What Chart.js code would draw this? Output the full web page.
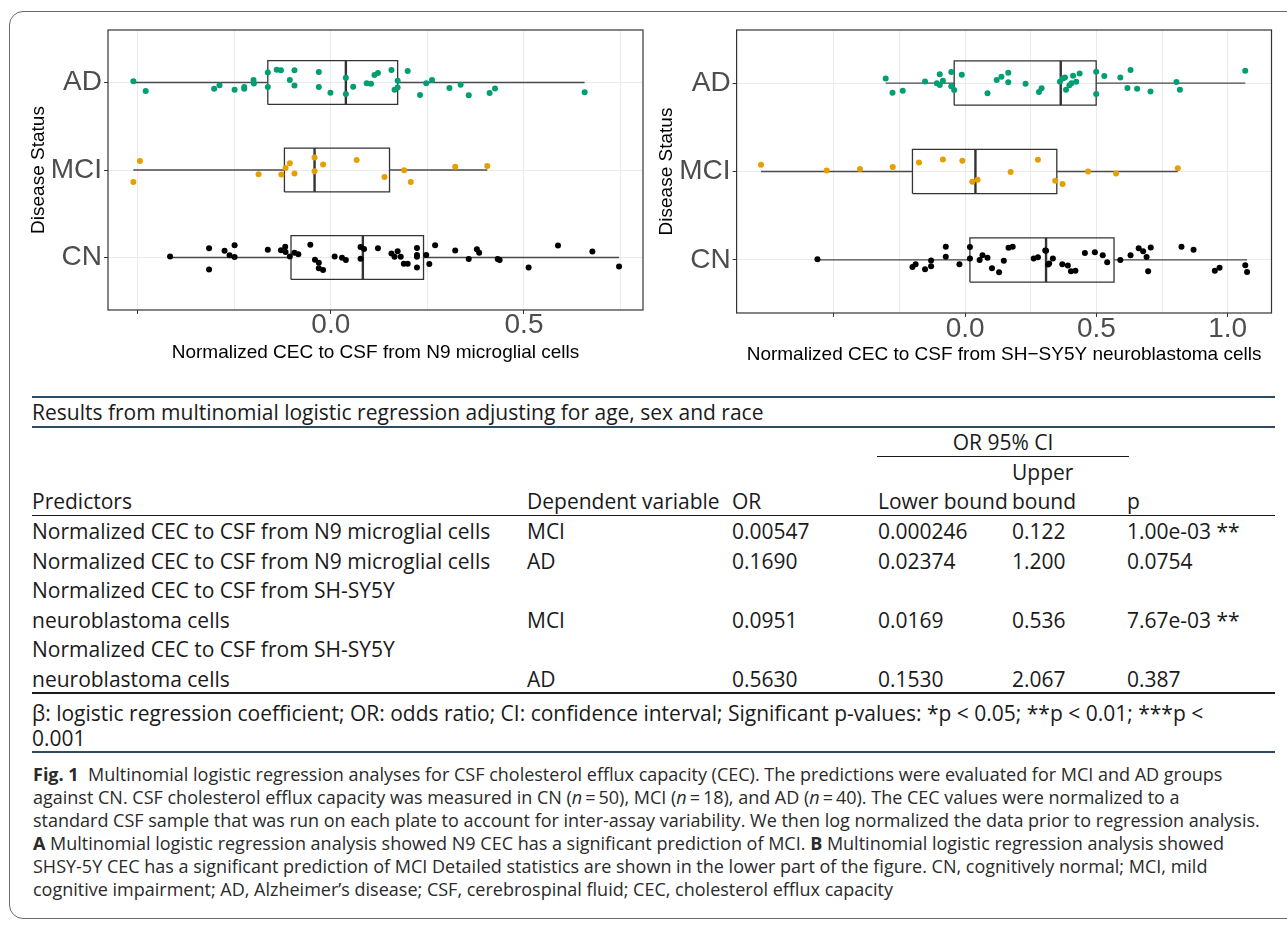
<!DOCTYPE html>
<html>
<head>
<meta charset="utf-8">
<title>CSF CEC by disease status</title>
<script src="https://cdn.jsdelivr.net/npm/chart.js@4"></script>
<style>
  body { margin: 0; background: #fff; width: 1287px; height: 925px; overflow: hidden; position: relative; }
  .frame { position: absolute; left: 9px; top: 11px; width: 1320px; height: 906px; border: 1.5px solid #6a6a6a; border-radius: 14px; }
  canvas { position: absolute; }
  .t { position: absolute; white-space: pre; font-family: "Open Sans", "Noto Sans", sans-serif; font-size: 21px; color: #1a1a1a; line-height: 29px; }
  .rule { position: absolute; left: 32px; width: 1243px; }
  .cap { position: absolute; left: 33px; white-space: nowrap; font-family: "Open Sans", "Noto Sans", sans-serif; font-size: 18px; color: #2a2a2a; line-height: 23px; }
</style>
</head>
<body>
<div class="frame"></div>
<canvas id="chartA" width="626" height="355" style="left:20px;top:14px"></canvas>
<canvas id="chartB" width="639" height="358" style="left:648px;top:14px"></canvas>
<div id="table"></div>
<div id="caption"></div>

<script>
// ---------- chart data ----------
const groups = ['CN', 'MCI', 'AD'];            // y = 1, 2, 3
const groupColors = ['#000000', '#E69F00', '#009E73'];

// panel A: N9 microglial cells. x = normalized CEC, j = vertical jitter
const n9_CN_x = [-0.416,-0.315,-0.315,-0.275,-0.262,-0.249,-0.249,-0.163,-0.129,-0.118,-0.117,-0.106,-0.094,-0.084,-0.053,-0.041,-0.031,-0.031,-0.020,0.010,0.029,0.039,0.077,0.077,0.086,0.122,0.157,0.165,0.173,0.181,0.189,0.199,0.223,0.223,0.223,0.223,0.247,0.255,0.270,0.322,0.357,0.378,0.384,0.432,0.437,0.512,0.588,0.677,0.746];
const n9_CN_j = [0.011,0.106,-0.136,0.076,0.027,0.140,0.005,0.090,0.083,0.124,0.064,0.011,0.053,0.038,0.147,-0.026,-0.060,-0.124,-0.142,0.011,-0.003,-0.029,0.121,-0.015,0.098,0.106,0.045,0.008,0.072,0.008,-0.071,-0.071,0.110,0.030,0.008,-0.113,0.030,-0.075,0.140,0.079,-0.018,0.095,0.053,-0.018,-0.029,-0.113,0.136,0.068,-0.102];
const n9_MCI_x = [-0.494,-0.511,-0.187,-0.128,-0.117,-0.106,-0.094,-0.042,-0.042,-0.020,0.067,0.139,0.190,0.207,0.322,0.405];
const n9_MCI_j = [0.102,-0.136,-0.049,-0.052,0.023,0.076,-0.041,0.143,-0.015,0.064,0.113,-0.079,-0.003,-0.136,0.038,0.045];
const n9_AD_x = [-0.511,-0.479,-0.302,-0.288,-0.249,-0.224,-0.224,-0.200,-0.199,-0.163,-0.163,-0.140,-0.129,-0.106,-0.094,-0.094,-0.031,-0.031,-0.001,0.039,0.039,0.058,0.093,0.104,0.113,0.122,0.157,0.173,0.165,0.173,0.199,0.231,0.247,0.262,0.307,0.336,0.357,0.411,0.425,0.657];
const n9_AD_j = [0.015,-0.098,-0.072,-0.030,-0.083,-0.071,-0.050,0.030,-0.011,0.113,-0.050,0.147,0.139,0.030,0.139,-0.034,0.120,-0.050,-0.117,0.053,-0.132,-0.049,-0.008,-0.015,0.087,0.110,0.143,0.019,-0.083,-0.056,0.132,-0.143,-0.008,0.030,-0.064,-0.026,-0.147,-0.121,-0.068,-0.112];
// box stats: [lower whisker, Q1, median, Q3, upper whisker]
const n9_CN_box = [-0.416, -0.103, 0.083, 0.240, 0.746];
const n9_MCI_box = [-0.511, -0.120, -0.042, 0.152, 0.405];
const n9_AD_box = [-0.511, -0.163, 0.039, 0.173, 0.657];

// panel B: SH-SY5Y neuroblastoma cells
const sh_CN_x = [-0.563,-0.201,-0.189,-0.153,-0.130,-0.130,-0.074,-0.074,-0.022,0.018,0.018,0.055,0.066,0.085,0.102,0.129,0.147,0.165,0.181,0.261,0.277,0.305,0.308,0.316,0.320,0.334,0.370,0.391,0.403,0.420,0.456,0.494,0.524,0.541,0.591,0.630,0.661,0.678,0.691,0.697,0.707,0.824,0.870,0.951,0.969,1.067,1.074];
const sh_CN_j = [0.007,-0.079,-0.050,-0.106,-0.005,-0.072,0.150,0.037,-0.050,0.147,0.015,0.000,0.052,0.026,-0.095,-0.140,-0.008,0.139,0.150,0.015,0.029,0.108,0.105,-0.053,-0.040,0.015,-0.050,-0.064,-0.128,-0.121,0.079,0.086,0.052,-0.027,0.000,0.052,0.131,0.097,0.034,-0.128,0.142,0.150,0.116,-0.121,-0.087,-0.061,-0.135];
const sh_MCI_x = [-0.778,-0.528,-0.401,-0.276,-0.176,-0.085,-0.011,0.027,0.047,0.173,0.277,0.343,0.371,0.468,0.575,0.810];
const sh_MCI_j = [0.075,0.011,0.027,0.050,0.101,0.135,0.121,-0.116,-0.094,-0.007,0.132,-0.105,-0.142,0.000,-0.023,0.038];
const sh_AD_x = [-0.303,-0.277,-0.238,-0.153,-0.108,-0.097,-0.097,-0.085,-0.053,-0.053,-0.042,-0.013,0.085,0.120,0.138,0.164,0.164,0.230,0.281,0.291,0.361,0.372,0.380,0.384,0.397,0.405,0.411,0.423,0.436,0.499,0.499,0.530,0.591,0.618,0.630,0.655,0.706,0.805,0.818,1.067];
const sh_AD_j = [0.053,-0.109,-0.087,0.019,-0.003,0.101,-0.023,0.026,0.124,-0.037,-0.079,0.094,-0.116,0.034,0.071,0.116,0.008,-0.008,-0.101,-0.060,0.015,0.053,0.064,-0.076,-0.026,-0.003,0.082,0.015,0.109,0.127,-0.124,0.079,0.064,-0.056,0.147,-0.064,-0.094,0.011,-0.076,0.139];
const sh_CN_box = [-0.563, 0.018, 0.308, 0.567, 1.074];
const sh_MCI_box = [-0.778, -0.201, 0.039, 0.349, 0.810];
const sh_AD_box = [-0.303, -0.042, 0.364, 0.499, 1.067];

// axis ticks
const n9Ticks = [-0.5, -0.25, 0, 0.25, 0.5, 0.75];
const shTicks = [-0.5, -0.25, 0, 0.25, 0.5, 0.75, 1.0];
const majorTicks = [-0.5, 0, 0.5, 1.0];
const xLabelText = { '0': '0.0', '0.5': '0.5', '1': '1.0' };
const yTicks = [1, 2, 3];

const AX = '"Liberation Sans", Arial, sans-serif';

function boxDatasets(stats, yc) {
  const [lo, q1, med, q3, hi] = stats;
  const seg = (pts, w, c) => ({ data: pts, showLine: true, borderColor: c, borderWidth: w,
    pointRadius: 0, pointHoverRadius: 0, fill: false, borderJoinStyle: 'miter' });
  return [
    seg([{x: lo, y: yc}, {x: q1, y: yc}], 1.3, '#4a4a4a'),
    seg([{x: q3, y: yc}, {x: hi, y: yc}], 1.3, '#4a4a4a'),
    seg([{x: q1, y: yc - 0.25}, {x: q3, y: yc - 0.25}, {x: q3, y: yc + 0.25},
         {x: q1, y: yc + 0.25}, {x: q1, y: yc - 0.25}], 1.3, '#333333'),
    seg([{x: med, y: yc - 0.25}, {x: med, y: yc + 0.25}], 2.4, '#333333')
  ];
}

function pointDataset(xs, js, yc, color) {
  return { data: xs.map((x, i) => ({x: x, y: yc + js[i]})), backgroundColor: color,
    borderWidth: 0, pointRadius: 3, pointHoverRadius: 3 };
}

const panelBorder = {
  id: 'panelBorder',
  afterDraw(chart) {
    const {ctx, chartArea: a} = chart;
    ctx.save();
    ctx.strokeStyle = '#333333';
    ctx.lineWidth = 1.2;
    ctx.strokeRect(a.left, a.top, a.right - a.left, a.bottom - a.top);
    ctx.restore();
  }
};

function makePanel(id, pts, boxes, xMin, xMax, xTicks, xTitle, o) {
  const datasets = [];
  // points first so they are drawn on top
  pts.forEach((p, g) => datasets.push(pointDataset(p[0], p[1], g + 1, groupColors[g])));
  boxes.forEach((b, g) => datasets.push(...boxDatasets(b, g + 1)));

  return new Chart(document.getElementById(id), {
    type: 'scatter',
    data: { datasets: datasets },
    plugins: [panelBorder],
    options: {
      responsive: false, animation: false, events: [],
      layout: { padding: { top: o.top, right: o.right, left: 0, bottom: 0 } },
      plugins: { legend: { display: false }, tooltip: { enabled: false } },
      scales: {
        x: {
          type: 'linear', min: xMin, max: xMax,
          afterBuildTicks: s => { s.ticks = xTicks.map(v => ({ value: v })); },
          afterFit: s => { s.height = o.xh; },
          ticks: { autoSkip: false, maxRotation: 0, padding: o.tickPad, color: '#4d4d4d',
            font: { family: AX, size: 28, lineHeight: 1 },
            callback: v => xLabelText[String(v)] || '' },
          grid: { color: '#ebebeb', lineWidth: 1, tickLength: 4,
            tickColor: c => majorTicks.includes(c.tick && c.tick.value) ? '#333333' : 'rgba(0,0,0,0)' },
          border: { display: false },
          title: { display: true, text: xTitle, color: '#000',
            font: { family: AX, size: 19 }, padding: { top: 0, bottom: o.titlePad } }
        },
        y: {
          type: 'linear', min: 0.4, max: 3.6,
          afterBuildTicks: s => { s.ticks = yTicks.map(v => ({ value: v })); },
          afterFit: s => { s.width = o.yw; },
          ticks: { autoSkip: false, padding: 2, color: '#4d4d4d',
            font: { family: AX, size: 28, lineHeight: 1 },
            callback: v => groups[v - 1] },
          grid: { color: '#ebebeb', lineWidth: 1, tickLength: 4, tickColor: '#333333' },
          border: { display: false },
          title: { display: true, text: 'Disease Status', color: '#000',
            font: { family: AX, size: 19 }, padding: { top: 7, bottom: 0 } }
        }
      }
    }
  });
}

makePanel('chartA',
  [[n9_CN_x, n9_CN_j], [n9_MCI_x, n9_MCI_j], [n9_AD_x, n9_AD_j]],
  [n9_CN_box, n9_MCI_box, n9_AD_box],
  -0.5766, 0.808, n9Ticks, 'Normalized CEC to CSF from N9 microglial cells',
  { top: 13, right: 3, xh: 59, yw: 88, tickPad: -3, titlePad: 5 });

makePanel('chartB',
  [[sh_CN_x, sh_CN_j], [sh_MCI_x, sh_MCI_j], [sh_AD_x, sh_AD_j]],
  [sh_CN_box, sh_MCI_box, sh_AD_box],
  -0.871, 1.167, shTicks, 'Normalized CEC to CSF from SH\u2212SY5Y neuroblastoma cells',
  { top: 16, right: 15.5, xh: 59, yw: 88.6, tickPad: -2, titlePad: 5.6 });

// ---------- table ----------
const tblTitle = 'Results from multinomial logistic regression adjusting for age, sex and race';
const colX = [32, 527, 732, 878, 1012, 1127];
const tblHeader = ['Predictors', 'Dependent variable', 'OR', 'Lower bound', 'bound', 'p'];
const predictors = ['Normalized CEC to CSF from N9 microglial cells', 'Normalized CEC to CSF from N9 microglial cells',
  'Normalized CEC to CSF from SH-SY5Y', 'Normalized CEC to CSF from SH-SY5Y'];
const predictorsCont = ['', '', 'neuroblastoma cells', 'neuroblastoma cells'];
const depVar = ['MCI', 'AD', 'MCI', 'AD'];
const orVals = ['0.00547', '0.1690', '0.0951', '0.5630'];
const lowerVals = ['0.000246', '0.02374', '0.0169', '0.1530'];
const upperVals = ['0.122', '1.200', '0.536', '2.067'];
const pVals = ['1.00e-03 **', '0.0754', '7.67e-03 **', '0.387'];
const footnote = ['\u03b2: logistic regression coefficient; OR: odds ratio; CI: confidence interval; Significant p-values: *p < 0.05; **p < 0.01; ***p <', '0.001'];

const tbl = document.getElementById('table');
function txt(s, x, yc, extra) {
  const d = document.createElement('div');
  d.className = 't';
  d.textContent = s;
  d.style.left = x + 'px';
  d.style.top = (yc - 14.5) + 'px';
  if (extra) Object.assign(d.style, extra);
  tbl.appendChild(d);
}
function rule(y, h, color, left, width) {
  const d = document.createElement('div');
  d.className = 'rule';
  d.style.top = y + 'px';
  d.style.height = h + 'px';
  d.style.background = color;
  if (left !== undefined) { d.style.left = left + 'px'; d.style.width = width + 'px'; }
  tbl.appendChild(d);
}
rule(396, 1.6, '#2f4a63');
txt(tblTitle, 32, 412.5);
rule(426, 1.6, '#2f4a63');
txt('OR 95% CI', 878, 442, { width: '250px', textAlign: 'center' });
rule(456, 1.2, '#1a1a1a', 877, 252);
txt('Upper', 1012, 472.5);
tblHeader.forEach((h, i) => txt(h, colX[i], 501.5));
rule(515, 1.3, '#1a1a1a');
const lineY = [531.75, 561.25, 590.75, 620.25, 649.75, 679.25];
let li = 0;
predictors.forEach((p, r) => {
  let y = lineY[li];
  txt(p, colX[0], y);
  if (predictorsCont[r]) { li++; y = lineY[li]; txt(predictorsCont[r], colX[0], y); }
  [depVar[r], orVals[r], lowerVals[r], upperVals[r], pVals[r]].forEach((v, c) => txt(v, colX[c + 1], y));
  li++;
});
rule(692, 1.6, '#1a1a1a');
txt(footnote[0], 32, 713);
txt(footnote[1], 32, 738);
rule(751, 1.6, '#2f4a63');

// ---------- caption ----------
const captionLines = [
  '<b>Fig. 1</b>&nbsp; Multinomial logistic regression analyses for CSF cholesterol efflux capacity (CEC). The predictions were evaluated for MCI and AD groups',
  'against CN. CSF cholesterol efflux capacity was measured in CN (<i>n</i>\u2009=\u200950), MCI (<i>n</i>\u2009=\u200918), and AD (<i>n</i>\u2009=\u200940). The CEC values were normalized to a',
  'standard CSF sample that was run on each plate to account for inter-assay variability. We then log normalized the data prior to regression analysis.',
  '<b>A</b> Multinomial logistic regression analysis showed N9 CEC has a significant prediction of MCI. <b>B</b> Multinomial logistic regression analysis showed',
  'SHSY-5Y CEC has a significant prediction of MCI Detailed statistics are shown in the lower part of the figure. CN, cognitively normal; MCI, mild',
  'cognitive impairment; AD, Alzheimer\u2019s disease; CSF, cerebrospinal fluid; CEC, cholesterol efflux capacity'
];
const cap = document.getElementById('caption');
captionLines.forEach((l, i) => {
  const d = document.createElement('div');
  d.className = 'cap';
  d.innerHTML = l;
  d.style.top = (762.5 + i * 23) + 'px';
  cap.appendChild(d);
});
</script>
</body>
</html>
